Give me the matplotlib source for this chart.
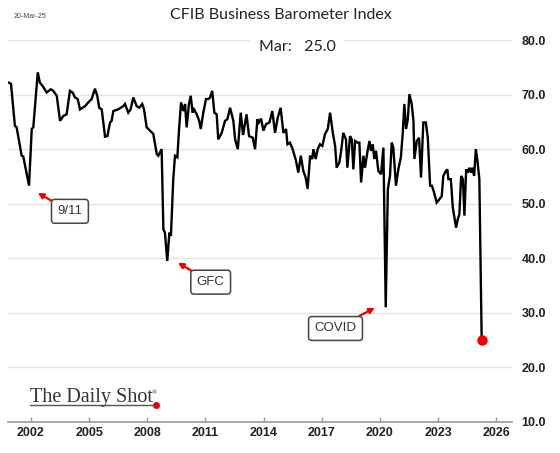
import matplotlib
matplotlib.use("Agg")
import matplotlib.pyplot as plt
from matplotlib.lines import Line2D

# CFIB Business Barometer (12-month outlook)
years = [
    2000.86, 2000.97, 2001.17, 2001.26, 2001.52, 2001.60, 2001.90, 2002.04, 2002.12, 2002.35,
    2002.46, 2002.60, 2002.81, 2003.02, 2003.15, 2003.33, 2003.50, 2003.67, 2003.84, 2004.01,
    2004.15, 2004.27, 2004.41, 2004.53, 2004.79, 2004.96, 2005.13, 2005.30, 2005.42, 2005.52,
    2005.65, 2005.82, 2005.94, 2006.08, 2006.16, 2006.25, 2006.50, 2006.76, 2006.85, 2007.02,
    2007.14, 2007.28, 2007.45, 2007.59, 2007.74, 2007.83, 2007.97, 2008.14, 2008.31, 2008.49,
    2008.57, 2008.74, 2008.83, 2008.91, 2009.03, 2009.14, 2009.22, 2009.34, 2009.43, 2009.55,
    2009.64, 2009.74, 2009.86, 2009.95, 2010.03, 2010.15, 2010.24, 2010.34, 2010.41, 2010.55,
    2010.68, 2010.76, 2010.89, 2011.03, 2011.15, 2011.24, 2011.35, 2011.46, 2011.58, 2011.66,
    2011.84, 2012.01, 2012.13, 2012.27, 2012.44, 2012.53, 2012.67, 2012.82, 2012.94, 2013.12,
    2013.25, 2013.44, 2013.56, 2013.68, 2013.76, 2013.87, 2013.99, 2014.13, 2014.30, 2014.45,
    2014.59, 2014.73, 2014.88, 2015.02, 2015.16, 2015.23, 2015.36, 2015.50, 2015.67, 2015.79,
    2015.92, 2016.05, 2016.17, 2016.27, 2016.40, 2016.51, 2016.57, 2016.69, 2016.79, 2016.91,
    2017.03, 2017.17, 2017.31, 2017.43, 2017.57, 2017.69, 2017.77, 2017.91, 2018.00, 2018.11,
    2018.25, 2018.32, 2018.46, 2018.55, 2018.63, 2018.72, 2018.84, 2018.94, 2019.03, 2019.15,
    2019.23, 2019.35, 2019.46, 2019.54, 2019.63, 2019.71, 2019.80, 2019.92, 2020.06, 2020.18,
    2020.30, 2020.41, 2020.52, 2020.61, 2020.69, 2020.83, 2020.95, 2021.08, 2021.18, 2021.26,
    2021.35, 2021.44, 2021.52, 2021.64, 2021.73, 2021.78, 2021.90, 2022.02, 2022.12, 2022.24,
    2022.37, 2022.47, 2022.59, 2022.68, 2022.79, 2022.93, 2023.07, 2023.19, 2023.27, 2023.40,
    2023.48, 2023.53, 2023.66, 2023.76, 2023.93, 2024.02, 2024.10, 2024.19, 2024.28, 2024.36,
    2024.45, 2024.53, 2024.62, 2024.70, 2024.77, 2024.86, 2024.95, 2025.03, 2025.13, 2025.25,
]
index = [
    72.2, 72.0, 64.3, 64.0, 58.8, 58.7, 53.3, 63.7, 64.0, 74.1,
    72.2, 71.6, 70.4, 71.0, 70.7, 69.8, 65.2, 66.1, 66.4, 70.7,
    70.4, 69.5, 69.2, 67.3, 67.9, 68.6, 69.2, 71.1, 69.8, 67.6,
    67.3, 62.3, 62.4, 64.9, 65.2, 67.0, 67.3, 67.9, 68.3, 66.7,
    67.3, 69.5, 67.9, 67.6, 68.3, 67.3, 64.0, 63.4, 62.8, 59.1,
    58.8, 60.0, 45.3, 44.7, 39.5, 44.7, 44.1, 54.5, 58.8, 58.5,
    63.7, 68.6, 67.0, 68.3, 64.0, 68.3, 69.8, 66.7, 67.3, 66.4,
    65.2, 63.7, 66.7, 69.2, 69.2, 69.5, 70.7, 66.7, 66.4, 61.8,
    63.0, 65.2, 65.5, 67.6, 65.2, 61.8, 60.0, 66.7, 62.6, 66.4,
    62.4, 62.1, 60.0, 65.5, 64.9, 65.6, 63.4, 64.6, 64.9, 67.0,
    63.0, 65.8, 67.6, 63.0, 63.7, 60.9, 61.2, 60.0, 57.9, 55.7,
    58.8, 56.0, 54.8, 52.7, 58.8, 58.2, 60.0, 58.2, 60.0, 60.9,
    60.6, 62.8, 63.7, 66.7, 63.0, 60.6, 56.6, 57.6, 59.7, 63.0,
    61.8, 56.6, 62.4, 61.8, 56.3, 61.5, 61.2, 61.2, 53.9, 58.8,
    56.6, 59.4, 61.5, 59.7, 60.9, 58.2, 59.7, 56.0, 55.4, 60.3,
    31.0, 52.7, 55.1, 61.2, 60.3, 53.3, 56.3, 58.5, 63.0, 68.3,
    63.7, 65.5, 70.1, 68.3, 65.2, 58.2, 61.5, 62.1, 54.8, 64.9,
    64.9, 62.1, 53.3, 53.3, 52.1, 50.2, 50.8, 51.4, 55.1, 56.0,
    56.3, 54.5, 54.5, 49.3, 45.6, 47.2, 48.1, 55.1, 54.5, 47.8,
    56.3, 55.7, 56.6, 55.7, 56.6, 55.1, 60.0, 57.9, 54.5, 25.0,
]

# annotation labels: (text, point, box centre)
events = ["9/11", "GFC", "COVID"]
event_xy = [(2002.29, 52.1), (2009.52, 39.3), (2019.80, 31.0)]
event_text_xy = [(2004.01, 48.6), (2011.27, 35.6), (2017.71, 27.1)]

year_ticks = list(range(2002, 2027, 3))
value_ticks = [10, 20, 30, 40, 50, 60, 70, 80]

fig = plt.figure(figsize=(5.6, 4.53), dpi=100)
ax = fig.add_axes([0.0148, 0.0691, 0.899, 0.8422])

for v in value_ticks[1:]:
    ax.axhline(v, color="#e4e4e4", lw=1.0, zorder=0)

ax.plot(years, index, color="black", lw=1.7, solid_joinstyle="miter", zorder=3)
ax.plot(years[-1], index[-1], "o", color="#ee0000", ms=6.5, zorder=4)

for label, xy, xyt in zip(events, event_xy, event_text_xy):
    ax.annotate(label, xy=xy, xytext=xyt, ha="center", va="center",
                fontsize=9.5, color="#333333", family="Liberation Sans",
                bbox=dict(boxstyle="round,pad=0.45,rounding_size=0.25",
                          fc="white", ec="#444444", lw=1.1),
                arrowprops=dict(arrowstyle="-|>", color="#ee0000", lw=1.6,
                                mutation_scale=8, shrinkA=0, shrinkB=1),
                zorder=5)

ax.set_xlim(2000.83, 2026.80)
ax.set_ylim(10, 80)

for side in ["top", "left", "right"]:
    ax.spines[side].set_visible(False)
ax.spines["bottom"].set_color("#9a9a9a")
ax.spines["bottom"].set_linewidth(1.2)

ax.set_xticks(year_ticks)
ax.set_xticklabels([str(y) for y in year_ticks])
ax.tick_params(axis="x", direction="in", length=3.5, width=1, color="#9a9a9a",
               pad=4, labelsize=9)
ax.yaxis.tick_right()
ax.set_yticks(value_ticks)
ax.set_yticklabels([f"{v:.1f}" for v in value_ticks])
ax.tick_params(axis="y", length=0, pad=7, labelsize=9)
for lab in ax.get_xticklabels() + ax.get_yticklabels():
    lab.set_fontweight("bold")
    lab.set_family("Liberation Sans")
    lab.set_color("#222222")

fig.text(0.502, 1 - 15 / 453, "CFIB Business Barometer Index", ha="center", va="center",
         fontsize=11.5, family="Lato", color="#222222")
fig.text(297 / 560, 1 - 47 / 453, "Mar:   25.0", ha="center", va="center",
         fontsize=11.5, family="Lato", color="#222222",
         bbox=dict(fc="white", ec="none", pad=6))
fig.text(14 / 560, 1 - 17 / 453, "20-Mar-25", ha="left", va="center",
         fontsize=5, family="Liberation Sans", color="#444444")

# The Daily Shot logo
fig.text(30 / 560, 1 - 401.7 / 453, "The Daily Shot", ha="left", va="baseline",
         fontsize=14.5, family="Liberation Serif", color="#333333")
fig.text(152 / 560, 1 - 393 / 453, "®", ha="left", va="center",
         fontsize=5, family="Liberation Serif", color="#333333")
fig.add_artist(Line2D([30 / 560, 153 / 560], [1 - 405 / 453, 1 - 405 / 453],
                      color="#555555", lw=1.0, transform=fig.transFigure))
fig.add_artist(Line2D([155.7 / 560], [1 - 405 / 453], marker="o", ms=4,
                      color="#ee0000", transform=fig.transFigure))

fig.savefig("out.png", dpi=100)
